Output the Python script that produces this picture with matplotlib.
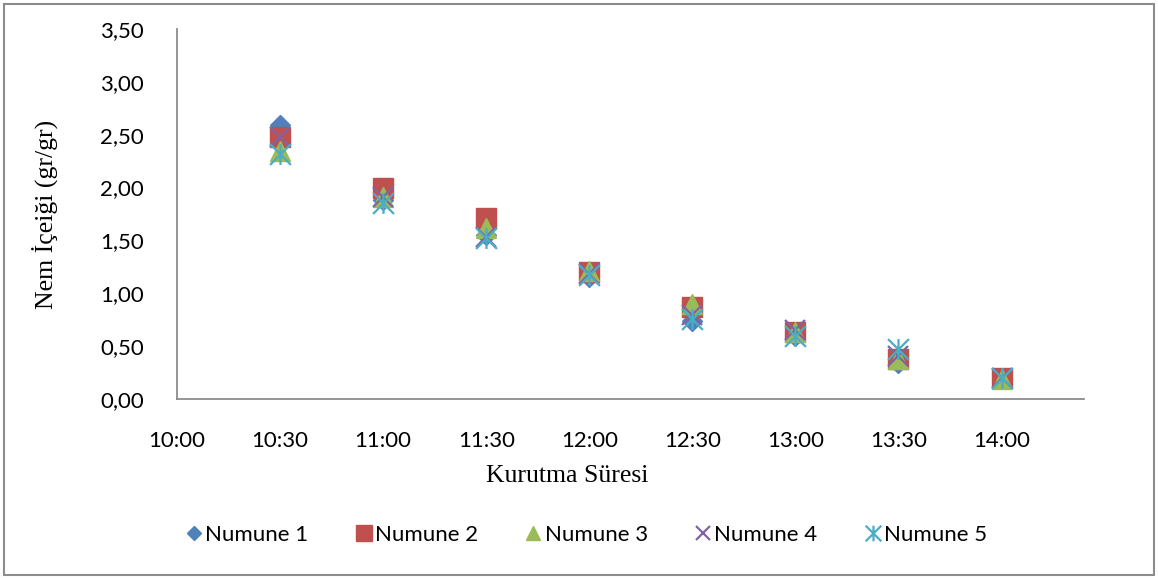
import numpy as np
import matplotlib.pyplot as plt
from matplotlib.path import Path
from matplotlib.ticker import FuncFormatter, MultipleLocator

times = ['10:30', '11:00', '11:30', '12:00', '12:30', '13:00', '13:30', '14:00']
numune1 = [2.59, 1.88, 1.55, 1.15, 0.74, 0.60, 0.34, 0.19]
numune2 = [2.48, 2.00, 1.71, 1.20, 0.87, 0.63, 0.38, 0.20]
numune3 = [2.35, 1.91, 1.62, 1.21, 0.90, 0.63, 0.38, 0.19]
numune4 = [2.48, 1.91, 1.53, 1.18, 0.79, 0.65, 0.41, 0.20]
numune5 = [2.32, 1.85, 1.52, 1.17, 0.76, 0.60, 0.47, 0.20]
labels = ['Numune 1', 'Numune 2', 'Numune 3', 'Numune 4', 'Numune 5']

def to_hours(t):
    h, m = t.split(':')
    return int(h) + int(m) / 60.0

x = [to_hours(t) for t in times]

# excel style asterisk marker
star = Path([(-1, -1), (1, 1), (-1, 1), (1, -1), (0, -1), (0, 1)],
            [Path.MOVETO, Path.LINETO, Path.MOVETO, Path.LINETO, Path.MOVETO, Path.LINETO])

styles = [
    dict(marker='D', color='#4F81BD', ms=10),
    dict(marker='s', color='#C0504D', ms=15),
    dict(marker='^', color='#9BBB59', ms=14),
    dict(marker='x', color='#8064A2', ms=14, mew=1.6),
    dict(marker=star, color='#4BACC6', ms=15, mew=1.6),
]

plt.rcParams['font.family'] = ['Lato', 'DejaVu Sans']

fig = plt.figure(figsize=(11.58, 5.78), dpi=100)
ax = fig.add_axes([177 / 1158, 1 - 399 / 578, (1084 - 177) / 1158, (399 - 29) / 578])

for ys, lab, st in zip([numune1, numune2, numune3, numune4, numune5], labels, styles):
    ax.plot(x, ys, linestyle='none', label=lab, markeredgecolor=st['color'],
            marker=st['marker'], color=st['color'], markersize=st['ms'],
            markeredgewidth=st.get('mew', 1.0))

ax.set_xlim(10.0, 14.4)
ax.set_ylim(0, 3.5)
ax.xaxis.set_major_locator(MultipleLocator(0.5))
ax.yaxis.set_major_locator(MultipleLocator(0.5))
ax.xaxis.set_major_formatter(FuncFormatter(lambda v, p: '%d:%02d' % (int(v), round((v - int(v)) * 60))))
ax.yaxis.set_major_formatter(FuncFormatter(lambda v, p: ('%.2f' % v).replace('.', ',')))
ax.tick_params(length=0, labelsize=16, pad=23)
ax.tick_params(axis='y', pad=24)

for s in ['top', 'right']:
    ax.spines[s].set_visible(False)
for s in ['left', 'bottom']:
    ax.spines[s].set_color('#8c8c8c')
    ax.spines[s].set_linewidth(1.3)

ax.set_ylabel('Nem İçeiği (gr/gr)', family='Liberation Serif', fontsize=18.5, labelpad=30)
fig.text(567 / 1158, 1 - 476 / 578, 'Kurutma Süresi', family='Liberation Serif',
         fontsize=18.5, ha='center', va='center')

fig.legend(loc='center', bbox_to_anchor=(585 / 1158, 1 - 535 / 578), ncol=5, frameon=False,
           fontsize=16, handletextpad=0.0, columnspacing=2.0, handlelength=1.0,
           markerscale=0.75)

fig.patches.append(plt.Rectangle((4 / 1158, 3 / 578), 1150 / 1158, 571 / 578,
                                 transform=fig.transFigure, fill=False,
                                 edgecolor='#8c8c8c', linewidth=1.5))

fig.savefig('out.png', dpi=100)
